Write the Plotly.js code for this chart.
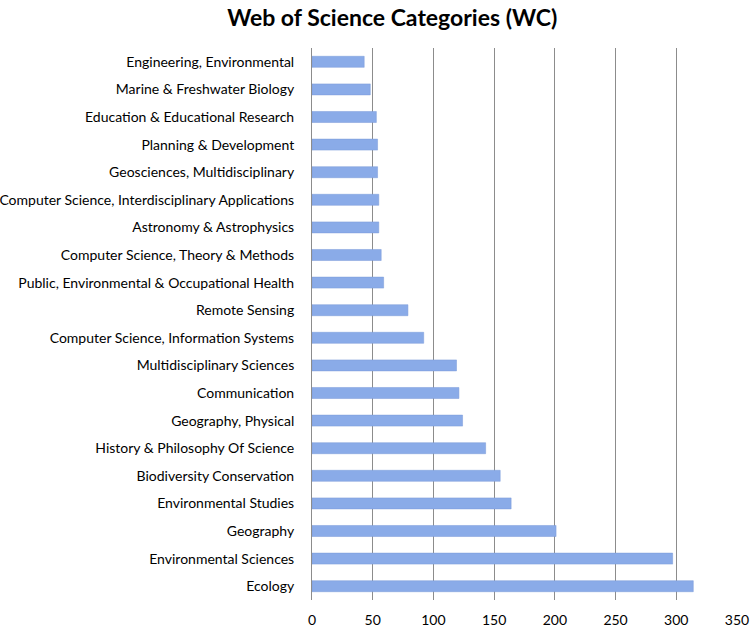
<!DOCTYPE html>
<html>
<head>
<meta charset="utf-8">
<script src="https://cdn.plot.ly/plotly-3.0.1.min.js"></script>
<style>html,body{margin:0;padding:0;background:#fff;}#chart{width:750px;height:628px;}</style>
</head>
<body>
<div id="chart"></div>
<script>
const categories = [
  "Engineering, Environmental",
  "Marine & Freshwater Biology",
  "Education & Educational Research",
  "Planning & Development",
  "Geosciences, Multidisciplinary",
  "Computer Science, Interdisciplinary Applications",
  "Astronomy & Astrophysics",
  "Computer Science, Theory & Methods",
  "Public, Environmental & Occupational Health",
  "Remote Sensing",
  "Computer Science, Information Systems",
  "Multidisciplinary Sciences",
  "Communication",
  "Geography, Physical",
  "History & Philosophy Of Science",
  "Biodiversity Conservation",
  "Environmental Studies",
  "Geography",
  "Environmental Sciences",
  "Ecology"
];
const counts = [43, 48, 53, 54, 54, 55, 55, 57, 59, 79, 92, 119, 121, 124, 143, 155, 164, 201, 297, 314];
const xTicks = [0, 50, 100, 150, 200, 250, 300, 350];

const trace = {
  type: 'bar',
  orientation: 'h',
  y: categories,
  x: counts,
  marker: {color: '#8aabe8', line: {color: '#7a9bd8', width: 0.5}},
  hoverinfo: 'x+y'
};

const layout = {
  width: 750,
  height: 628,
  margin: {l: 312, r: 13, t: 48, b: 28},
  paper_bgcolor: '#ffffff',
  plot_bgcolor: '#ffffff',
  font: {family: 'Lato, Carlito, "Open Sans", sans-serif', size: 14, color: '#000'},
  title: {
    text: '<b>Web of Science Categories (WC)</b>',
    font: {family: 'Lato, Carlito, "Open Sans", sans-serif', size: 23, color: '#000'},
    x: 0.523, xanchor: 'center', y: 0.972, yanchor: 'middle'
  },
  bargap: 0.6,
  showlegend: false,
  xaxis: {
    range: [0, 350],
    tickvals: xTicks,
    ticktext: xTicks.map(String),
    showgrid: true,
    gridcolor: '#8c8c8c',
    gridwidth: 1,
    zeroline: false,
    showline: false,
    ticks: '',
    ticklabelstandoff: 10,
    tickfont: {size: 14, color: '#000'},
    fixedrange: true
  },
  yaxis: {
    type: 'category',
    autorange: 'reversed',
    showgrid: false,
    zeroline: false,
    showline: true,
    linecolor: '#8c8c8c',
    linewidth: 1,
    ticks: '',
    ticklabelstandoff: 14,
    tickfont: {size: 14, color: '#000'},
    fixedrange: true
  }
};

Plotly.newPlot('chart', [trace], layout, {displayModeBar: false, staticPlot: true});
</script>
</body>
</html>
